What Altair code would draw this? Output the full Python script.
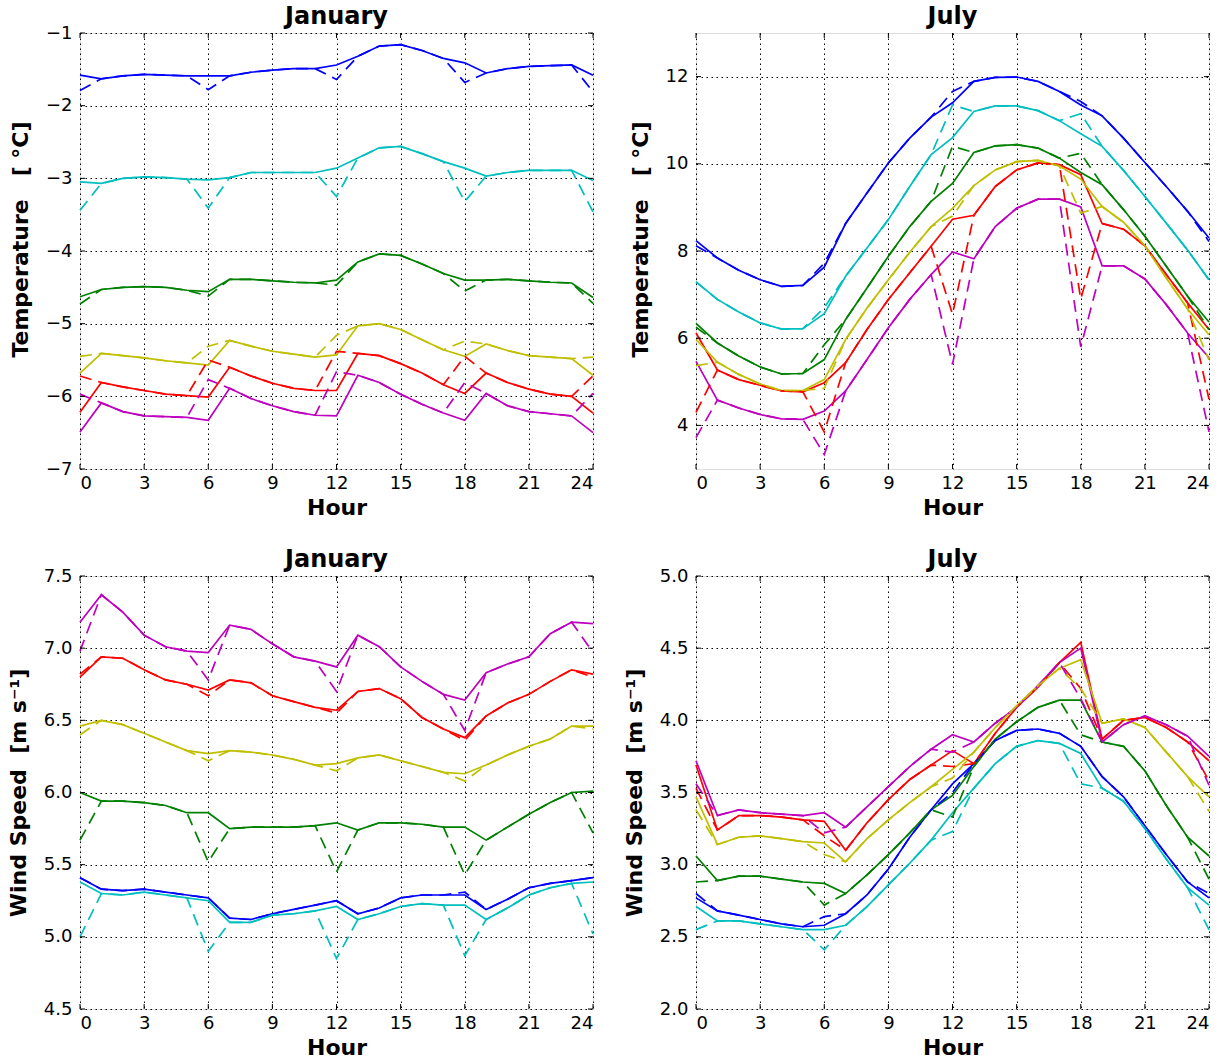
import altair as alt
import pandas as pd

hours = list(range(25))
dash_hours = [0, 6, 12, 18, 24]
x_ticks = [0, 3, 6, 9, 12, 15, 18, 21, 24]
series = ["b", "g", "r", "c", "m", "y"]
colors = ["#0000ff", "#008000", "#ff0000", "#00bfbf", "#bf00bf", "#bfbf00"]

# ---------------- January temperature ----------------
tj_b = [-1.58, -1.63, -1.59, -1.57, -1.58, -1.59, -1.59, -1.59, -1.54, -1.51, -1.49, -1.49, -1.44,
        -1.32, -1.18, -1.16, -1.24, -1.35, -1.41, -1.55, -1.49, -1.46, -1.45, -1.44, -1.58]
tj_b_d = [-1.79, -1.78, -1.64, -1.68, -1.81]
tj_c = [-3.05, -3.07, -3.00, -2.98, -2.99, -3.01, -3.02, -2.99, -2.92, -2.92, -2.92, -2.92, -2.86,
        -2.72, -2.58, -2.56, -2.66, -2.77, -2.86, -2.97, -2.92, -2.89, -2.89, -2.89, -3.03]
tj_c_d = [-3.44, -3.41, -3.25, -3.32, -3.46]
tj_g = [-4.63, -4.53, -4.50, -4.49, -4.50, -4.54, -4.56, -4.39, -4.39, -4.41, -4.43, -4.44, -4.40,
        -4.15, -4.04, -4.06, -4.18, -4.31, -4.40, -4.40, -4.39, -4.41, -4.43, -4.44, -4.64]
tj_g_d = [-4.73, -4.62, -4.47, -4.55, -4.72]
tj_y = [-5.68, -5.41, -5.44, -5.47, -5.51, -5.54, -5.57, -5.23, -5.31, -5.38, -5.42, -5.46, -5.43,
        -5.03, -5.00, -5.08, -5.22, -5.36, -5.45, -5.28, -5.37, -5.44, -5.46, -5.48, -5.71]
tj_y_d = [-5.45, -5.31, -5.16, -5.24, -5.46]
tj_r = [-6.22, -5.81, -5.87, -5.92, -5.97, -5.99, -6.01, -5.60, -5.72, -5.82, -5.89, -5.92, -5.92,
        -5.41, -5.44, -5.55, -5.68, -5.84, -5.96, -5.68, -5.81, -5.90, -5.97, -6.00, -6.23]
tj_r_d = [-5.72, -5.50, -5.38, -5.45, -5.72]
tj_m = [-6.49, -6.09, -6.21, -6.27, -6.28, -6.29, -6.33, -5.89, -6.03, -6.13, -6.21, -6.26, -6.27,
        -5.71, -5.81, -5.97, -6.11, -6.23, -6.33, -5.96, -6.13, -6.21, -6.24, -6.27, -6.50]
tj_m_d = [-5.97, -5.77, -5.66, -5.81, -5.96]

# ---------------- July temperature ----------------
tu_b = [8.24, 7.84, 7.56, 7.34, 7.19, 7.21, 7.63, 8.63, 9.33, 10.02, 10.59, 11.07, 11.40,
        11.89, 11.98, 11.99, 11.89, 11.66, 11.35, 11.10, 10.59, 10.03, 9.48, 8.91, 8.30]
tu_b_d = [8.12, 7.72, 11.66, 11.43, 8.22]
tu_c = [7.29, 6.89, 6.60, 6.35, 6.21, 6.22, 6.56, 7.42, 8.07, 8.72, 9.48, 10.21, 10.60,
        11.20, 11.33, 11.33, 11.22, 10.99, 10.69, 10.40, 9.85, 9.25, 8.64, 8.02, 7.34]
tu_c_d = [7.29, 6.70, 11.35, 11.15, 7.34]
tu_g = [6.34, 5.89, 5.59, 5.34, 5.18, 5.19, 5.51, 6.43, 7.15, 7.88, 8.56, 9.14, 9.55,
        10.26, 10.41, 10.44, 10.36, 10.13, 9.80, 9.52, 8.95, 8.34, 7.65, 6.96, 6.37]
tu_g_d = [6.25, 5.85, 10.40, 10.24, 6.20]
tu_y = [5.97, 5.45, 5.17, 4.95, 4.80, 4.80, 5.05, 5.97, 6.69, 7.34, 7.97, 8.56, 8.98,
        9.50, 9.86, 10.05, 10.08, 9.95, 9.65, 9.02, 8.66, 8.12, 7.38, 6.67, 6.08]
tu_y_d = [5.37, 4.85, 8.80, 8.87, 5.50]
tu_r = [6.12, 5.27, 5.05, 4.92, 4.79, 4.77, 4.98, 5.44, 6.20, 6.89, 7.50, 8.11, 8.73,
        8.82, 9.48, 9.86, 10.02, 9.98, 9.75, 8.63, 8.50, 8.12, 7.46, 6.81, 6.20]
tu_r_d = [4.30, 3.85, 6.55, 6.90, 4.60]
tu_m = [5.47, 4.58, 4.40, 4.25, 4.15, 4.14, 4.33, 4.79, 5.51, 6.24, 6.89, 7.46, 7.98,
        7.82, 8.56, 8.98, 9.19, 9.19, 9.01, 7.66, 7.66, 7.36, 6.77, 6.12, 5.55]
tu_m_d = [3.72, 3.33, 5.40, 5.80, 3.85]

# ---------------- January wind speed ----------------
wj_m = [7.18, 7.37, 7.25, 7.09, 7.01, 6.98, 6.97, 7.16, 7.13, 7.03, 6.94, 6.91, 6.87,
        7.09, 7.01, 6.87, 6.77, 6.68, 6.64, 6.83, 6.89, 6.94, 7.10, 7.18, 7.17]
wj_m_d = [6.98, 6.78, 6.70, 6.43, 6.97]
wj_r = [6.80, 6.94, 6.93, 6.85, 6.78, 6.75, 6.71, 6.78, 6.76, 6.67, 6.63, 6.59, 6.57,
        6.70, 6.72, 6.65, 6.52, 6.44, 6.38, 6.53, 6.62, 6.68, 6.77, 6.85, 6.82]
wj_r_d = [6.82, 6.67, 6.55, 6.36, 6.80]
wj_y = [6.46, 6.50, 6.47, 6.41, 6.35, 6.29, 6.27, 6.29, 6.28, 6.26, 6.23, 6.19, 6.20,
        6.24, 6.26, 6.22, 6.18, 6.14, 6.13, 6.19, 6.26, 6.32, 6.37, 6.46, 6.46]
wj_y_d = [6.40, 6.22, 6.15, 6.08, 6.44]
wj_g = [6.00, 5.94, 5.94, 5.93, 5.91, 5.86, 5.86, 5.75, 5.76, 5.76, 5.76, 5.77, 5.79,
        5.74, 5.79, 5.79, 5.78, 5.76, 5.76, 5.67, 5.76, 5.85, 5.93, 6.00, 6.01]
wj_g_d = [5.67, 5.52, 5.45, 5.43, 5.72]
wj_b = [5.41, 5.33, 5.32, 5.33, 5.31, 5.29, 5.27, 5.13, 5.12, 5.16, 5.19, 5.22, 5.25,
        5.16, 5.20, 5.27, 5.29, 5.29, 5.29, 5.19, 5.26, 5.34, 5.37, 5.39, 5.41]
wj_b_d = [5.41, 5.27, 5.25, 5.31, 5.41]
wj_c = [5.38, 5.30, 5.29, 5.31, 5.29, 5.27, 5.25, 5.10, 5.10, 5.15, 5.16, 5.18, 5.21,
        5.12, 5.16, 5.21, 5.23, 5.22, 5.22, 5.12, 5.20, 5.29, 5.34, 5.37, 5.38]
wj_c_d = [5.00, 4.90, 4.85, 4.87, 5.02]

# ---------------- July wind speed ----------------
wu_m = [3.72, 3.34, 3.38, 3.36, 3.35, 3.34, 3.36, 3.26, 3.40, 3.54, 3.68, 3.80, 3.90,
        3.85, 3.98, 4.09, 4.24, 4.40, 4.50, 3.85, 3.97, 4.03, 3.97, 3.89, 3.75]
wu_m_d = [3.56, 3.22, 3.78, 4.15, 3.55]
wu_r = [3.69, 3.24, 3.34, 3.34, 3.33, 3.31, 3.30, 3.10, 3.29, 3.45, 3.59, 3.69, 3.79,
        3.70, 3.91, 4.09, 4.23, 4.40, 4.54, 3.87, 4.00, 4.02, 3.95, 3.85, 3.72]
wu_r_d = [3.53, 3.20, 3.68, 4.22, 3.58]
wu_y = [3.47, 3.14, 3.19, 3.20, 3.18, 3.16, 3.15, 3.02, 3.18, 3.31, 3.43, 3.54, 3.66,
        3.78, 3.95, 4.10, 4.24, 4.36, 4.42, 3.98, 4.01, 3.95, 3.78, 3.61, 3.47]
wu_y_d = [3.38, 3.07, 3.60, 4.22, 3.37]
wu_g = [3.06, 2.89, 2.92, 2.92, 2.90, 2.88, 2.87, 2.80, 2.93, 3.07, 3.22, 3.38, 3.48,
        3.68, 3.87, 3.99, 4.09, 4.14, 4.14, 3.85, 3.82, 3.65, 3.41, 3.19, 3.06]
wu_g_d = [2.88, 2.72, 3.33, 3.90, 2.90]
wu_b = [2.77, 2.68, 2.65, 2.62, 2.59, 2.57, 2.58, 2.66, 2.79, 2.97, 3.19, 3.38, 3.56,
        3.70, 3.86, 3.93, 3.94, 3.91, 3.82, 3.61, 3.47, 3.27, 3.07, 2.88, 2.77]
wu_b_d = [2.80, 2.64, 3.50, 3.82, 2.80]
wu_c = [2.71, 2.61, 2.61, 2.59, 2.57, 2.55, 2.55, 2.58, 2.71, 2.86, 3.01, 3.17, 3.36,
        3.53, 3.70, 3.82, 3.86, 3.84, 3.77, 3.53, 3.44, 3.25, 3.04, 2.84, 2.72]
wu_c_d = [2.55, 2.41, 3.23, 3.56, 2.55]

FONT = "DejaVu Sans"
W = 513
T_TITLE = "Temperature\u00a0\u00a0 [\u00a0°C]"
W_TITLE = "Wind Speed\u00a0 [m s⁻¹]"


def panel(solid_vals, dashed_vals, ydom, yticks, ytitle, title, fmt, H, title_shift):
    rows = []
    for s in series:
        base_vals = solid_vals[s]
        for h, v in zip(hours, base_vals):
            rows.append({"hour": h, "value": v, "series": s, "style": "solid"})
        dv = list(base_vals)
        for h, v in zip(dash_hours, dashed_vals[s]):
            dv[h] = v
        for h, v in zip(hours, dv):
            rows.append({"hour": h, "value": v, "series": s, "style": "dashed"})
    df = pd.DataFrame(rows)

    xs = alt.Scale(domain=[0, 24], nice=False, zero=False)
    ys = alt.Scale(domain=ydom, nice=False, zero=False)
    grid = dict(grid=True, gridColor="black", gridDash=[1.5, 3.5], gridWidth=1, gridOpacity=1,
                ticks=False, domain=False, labelFontSize=18, titleFontSize=22,
                titleFontWeight="bold", labelFont=FONT, titleFont=FONT,
                labelColor="black", titleColor="black")
    xaxis = alt.Axis(values=x_ticks, title="Hour", labelPadding=5, titlePadding=5,
                     format="d", **grid)
    yaxis = alt.Axis(values=yticks, title=ytitle, labelPadding=8, titlePadding=13,
                     format=fmt, titleY=H / 2 - title_shift, **grid)
    color = alt.Color("series:N", scale=alt.Scale(domain=series, range=colors), legend=None)
    base = alt.Chart(df)
    solid = base.transform_filter(alt.datum.style == "solid").mark_line(strokeWidth=1.7).encode(
        x=alt.X("hour:Q", scale=xs, axis=xaxis),
        y=alt.Y("value:Q", scale=ys, axis=yaxis),
        color=color,
    )
    dashed = base.transform_filter(alt.datum.style == "dashed").mark_line(
        strokeWidth=1.7, strokeDash=[12, 7]).encode(
        x=alt.X("hour:Q", scale=xs),
        y=alt.Y("value:Q", scale=ys),
        color=color,
    )
    xt = pd.DataFrame({"hour": x_ticks})
    yt = pd.DataFrame({"value": yticks})
    tk = 5
    tick_b = alt.Chart(xt).mark_rule(color="black", strokeWidth=1).encode(
        x=alt.X("hour:Q", scale=xs), y=alt.value(H), y2=alt.value(H - tk))
    tick_t = alt.Chart(xt).mark_rule(color="black", strokeWidth=1).encode(
        x=alt.X("hour:Q", scale=xs), y=alt.value(0), y2=alt.value(tk))
    tick_l = alt.Chart(yt).mark_rule(color="black", strokeWidth=1).encode(
        y=alt.Y("value:Q", scale=ys), x=alt.value(0), x2=alt.value(tk))
    tick_r = alt.Chart(yt).mark_rule(color="black", strokeWidth=1).encode(
        y=alt.Y("value:Q", scale=ys), x=alt.value(W - tk), x2=alt.value(W))
    ttl = alt.Chart(pd.DataFrame({"t": [title]})).mark_text(
        fontSize=24, fontWeight="bold", font=FONT, color="black",
        align="center", baseline="alphabetic").encode(
        text="t:N", x=alt.value(W / 2), y=alt.value(-9))
    return alt.layer(solid, dashed, tick_b, tick_t, tick_l, tick_r, ttl).properties(
        width=W, height=H)


tl = panel({"b": tj_b, "g": tj_g, "r": tj_r, "c": tj_c, "m": tj_m, "y": tj_y},
           {"b": tj_b_d, "g": tj_g_d, "r": tj_r_d, "c": tj_c_d, "m": tj_m_d, "y": tj_y_d},
           [-7, -1], [-7, -6, -5, -4, -3, -2, -1], T_TITLE, "January", "d", 436, 12)
tr = panel({"b": tu_b, "g": tu_g, "r": tu_r, "c": tu_c, "m": tu_m, "y": tu_y},
           {"b": tu_b_d, "g": tu_g_d, "r": tu_r_d, "c": tu_c_d, "m": tu_m_d, "y": tu_y_d},
           [3, 13], [4, 6, 8, 10, 12], T_TITLE, "July", "d", 436, 12)
bl = panel({"b": wj_b, "g": wj_g, "r": wj_r, "c": wj_c, "m": wj_m, "y": wj_y},
           {"b": wj_b_d, "g": wj_g_d, "r": wj_r_d, "c": wj_c_d, "m": wj_m_d, "y": wj_y_d},
           [4.5, 7.5], [4.5, 5.0, 5.5, 6.0, 6.5, 7.0, 7.5], W_TITLE, "January", ".1f", 433, 0)
br = panel({"b": wu_b, "g": wu_g, "r": wu_r, "c": wu_c, "m": wu_m, "y": wu_y},
           {"b": wu_b_d, "g": wu_g_d, "r": wu_r_d, "c": wu_c_d, "m": wu_m_d, "y": wu_y_d},
           [2.0, 5.0], [2.0, 2.5, 3.0, 3.5, 4.0, 4.5, 5.0], W_TITLE, "July", ".1f", 433, 0)

chart = alt.concat(tl, tr, bl, br, columns=2,
                   spacing=alt.RowColnumber(row=28, column=25)).properties(
    padding={"left": 6, "top": 4, "right": 5, "bottom": 2},
    background="white",
).configure_view(stroke="black", strokeWidth=1.5).configure(font=FONT)

chart.save("out.html", embed_options={"renderer": "svg", "actions": False})
